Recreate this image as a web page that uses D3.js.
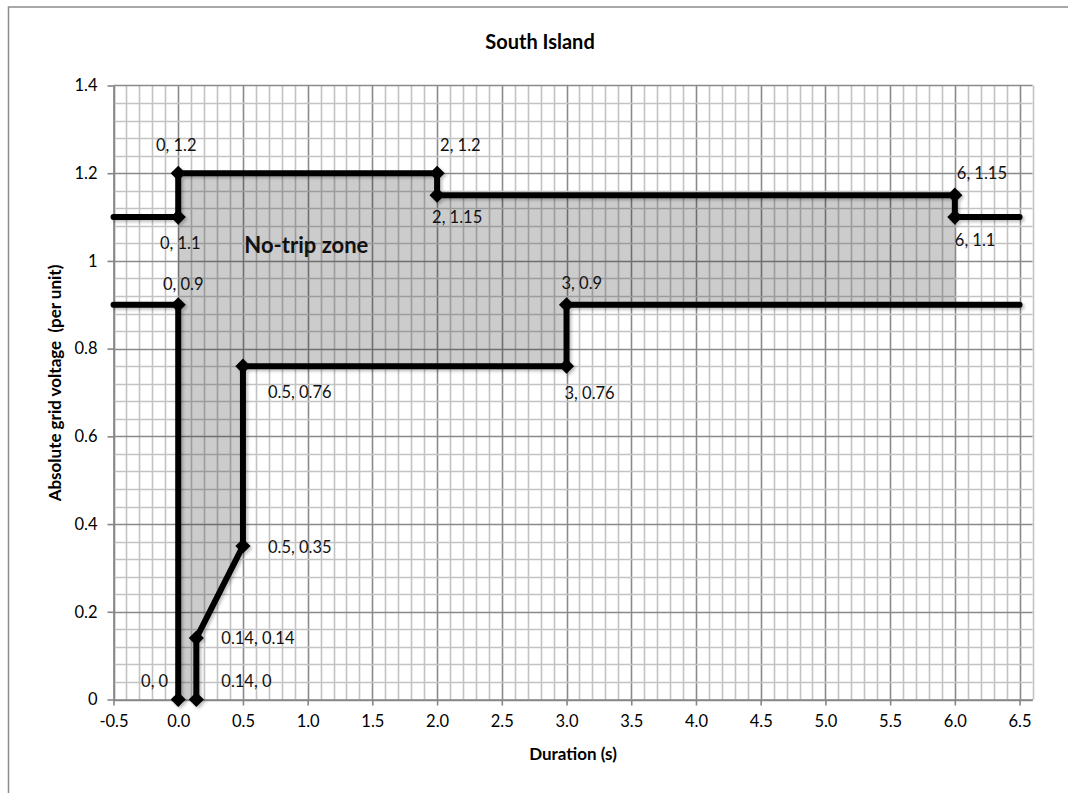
<!DOCTYPE html>
<html>
<head>
<meta charset="utf-8">
<script src="https://d3js.org/d3.v7.min.js"></script>
<style>
  body { margin: 0; background: #ffffff; }
  svg { display: block; font-family: Lato, "Open Sans", sans-serif; }
</style>
</head>
<body>
<script>
// chart data
const upperX = [-0.5, 0, 0, 2, 2, 6, 6, 6.5];
const upperY = [1.1, 1.1, 1.2, 1.2, 1.15, 1.15, 1.1, 1.1];
const lowerLeftX = [-0.5, 0, 0];
const lowerLeftY = [0.9, 0.9, 0];
const lowerRightX = [0.14, 0.14, 0.5, 0.5, 3, 3, 6.5];
const lowerRightY = [0, 0.14, 0.35, 0.76, 0.76, 0.9, 0.9];

// the labelled corner points
const pointX = [0, 0, 0, 2, 2, 6, 6, 3, 3, 0.5, 0.5, 0.14, 0.14, 0];
const pointY = [1.2, 1.1, 0.9, 1.2, 1.15, 1.15, 1.1, 0.9, 0.76, 0.76, 0.35, 0.14, 0, 0];

// shaded no-trip zone outline
const zoneX = [0, 0, 2, 2, 6, 6, 3, 3, 0.5, 0.5, 0.14, 0.14];
const zoneY = [0, 1.2, 1.2, 1.15, 1.15, 0.9, 0.9, 0.76, 0.76, 0.35, 0.14, 0];

// tick labels
const xTicks = [-0.5, 0, 0.5, 1, 1.5, 2, 2.5, 3, 3.5, 4, 4.5, 5, 5.5, 6, 6.5];
const yTicks = [0, 0.2, 0.4, 0.6, 0.8, 1, 1.2, 1.4];

const chartTitle = "South Island";
const xTitle = "Duration (s)";
const yTitle = "Absolute grid voltage\u00a0\u00a0(per unit)";
const zoneLabel = "No-trip zone";

// label placement for each point (dx, dy, anchor) - layout only
const labelPlace = [
    [-2, -28, "middle"], [2, 26, "middle"], [5, -21, "middle"],
    [3, -28, "start"], [-5, 22, "start"], [2, -22, "start"], [0, 23, "start"],
    [-5, -22, "start"], [-2, 27, "start"], [25, 26, "start"], [25, 1, "start"],
    [25, 0, "start"], [25, -18, "start"], [-10, -18, "end"]
];

const width = 1068;
const height = 793;

// plot area
const plot = { left: 113.5, right: 1032.5, top: 85.5, bottom: 699.5 };

var x = d3.scaleLinear().domain([-0.5, 6.6]).range([plot.left, plot.right]);
var y = d3.scaleLinear().domain([0, 1.4]).range([plot.bottom, plot.top]);

var svg = d3.select("body")
    .append("svg")
    .attr("width", width)
    .attr("height", height);

// soft shadow like the spreadsheet lines
var defs = svg.append("defs");
defs.append("filter")
    .attr("id", "shadow")
    .attr("x", "-20%").attr("y", "-20%")
    .attr("width", "140%").attr("height", "140%")
    .append("feDropShadow")
    .attr("dx", 2).attr("dy", 2)
    .attr("stdDeviation", 1.5)
    .attr("flood-color", "#000")
    .attr("flood-opacity", 0.25);

// outer chart frame (only top and left are in view)
svg.append("rect")
    .attr("x", 8.5).attr("y", 7)
    .attr("width", 1200).attr("height", 900)
    .attr("fill", "none")
    .attr("stroke", "#8c8c8c")
    .attr("stroke-width", 1.5);

// gridlines: minor every 0.1 / 0.04, major every 0.5 / 0.2
var gridX = d3.range(0, 72).map(function (i) { return { v: -0.5 + i * 0.1, major: i % 5 === 0 }; });
var gridY = d3.range(0, 36).map(function (i) { return { v: i * 0.04, major: i % 5 === 0 }; });

var grid = svg.append("g");
grid.selectAll(".gx")
    .data(gridX.sort(function (a, b) { return a.major - b.major; }))
    .enter()
    .append("line")
    .attr("x1", function (d) { return Math.round(x(d.v)) + 0.5; })
    .attr("x2", function (d) { return Math.round(x(d.v)) + 0.5; })
    .attr("y1", plot.top)
    .attr("y2", plot.bottom)
    .attr("stroke", function (d) { return d.major ? "#8a8a8a" : "#c3c3c3"; })
    .attr("stroke-width", 1.6);

grid.selectAll(".gy")
    .data(gridY.sort(function (a, b) { return a.major - b.major; }))
    .enter()
    .append("line")
    .attr("x1", plot.left)
    .attr("x2", plot.right)
    .attr("y1", function (d) { return Math.round(y(d.v)) + 0.5; })
    .attr("y2", function (d) { return Math.round(y(d.v)) + 0.5; })
    .attr("stroke", function (d) { return d.major ? "#8a8a8a" : "#c3c3c3"; })
    .attr("stroke-width", 1.6);

// shaded zone
var zone = zoneX.map(function (d, i) { return [x(d), y(zoneY[i])]; });
svg.append("polygon")
    .attr("points", zone.map(function (p) { return p.join(","); }).join(" "))
    .attr("fill", "#000000")
    .attr("fill-opacity", 0.2);

// axes
var xAxis = svg.append("g")
    .attr("transform", "translate(0," + plot.bottom + ")")
    .call(d3.axisBottom(x)
        .tickValues(xTicks)
        .tickSize(6)
        .tickSizeOuter(0)
        .tickPadding(10)
        .tickFormat(function (d) { return d.toFixed(1); }));

var yAxis = svg.append("g")
    .attr("transform", "translate(" + plot.left + ",0)")
    .call(d3.axisLeft(y)
        .tickValues(yTicks)
        .tickSize(6)
        .tickSizeOuter(0)
        .tickPadding(10)
        .tickFormat(function (d) { return String(+d.toFixed(1)); }));

[xAxis, yAxis].forEach(function (ax) {
    ax.select(".domain").attr("stroke", "#868686").attr("stroke-width", 1.6);
    ax.selectAll(".tick line").attr("stroke", "#868686").attr("stroke-width", 1.6);
    ax.selectAll("text")
        .attr("fill", "#000")
        .style("font-family", "Lato, sans-serif")
        .style("font-size", "16.5px");
});

// lines
var line = d3.line()
    .x(function (d) { return x(d[0]); })
    .y(function (d) { return y(d[1]); });

var series = [
    upperX.map(function (d, i) { return [d, upperY[i]]; }),
    lowerLeftX.map(function (d, i) { return [d, lowerLeftY[i]]; }),
    lowerRightX.map(function (d, i) { return [d, lowerRightY[i]]; })
];

var marks = svg.append("g").attr("filter", "url(#shadow)");

marks.selectAll("path.series")
    .data(series)
    .enter()
    .append("path")
    .attr("class", "series")
    .attr("d", line)
    .attr("fill", "none")
    .attr("stroke", "#000")
    .attr("stroke-width", 6)
    .attr("stroke-linecap", "round")
    .attr("stroke-linejoin", "miter");

// diamond markers
var points = pointX.map(function (d, i) { return { x: d, y: pointY[i], place: labelPlace[i] }; });

marks.selectAll("path.marker")
    .data(points)
    .enter()
    .append("path")
    .attr("class", "marker")
    .attr("d", d3.symbol().type(d3.symbolSquare).size(115))
    .attr("transform", function (d) { return "translate(" + x(d.x) + "," + y(d.y) + ") rotate(45)"; })
    .attr("fill", "#000");

// data labels
svg.append("g")
    .selectAll("text")
    .data(points)
    .enter()
    .append("text")
    .attr("x", function (d) { return x(d.x) + d.place[0]; })
    .attr("y", function (d) { return y(d.y) + d.place[1]; })
    .attr("dy", "0.35em")
    .attr("text-anchor", function (d) { return d.place[2]; })
    .style("font-size", "16.5px")
    .attr("fill", "#111")
    .text(function (d) { return d.x + ", " + d.y; });

// zone label
svg.append("text")
    .attr("x", x(0.99))
    .attr("y", y(1.035))
    .attr("dy", "0.35em")
    .attr("text-anchor", "middle")
    .style("font-size", "22px")
    .style("font-weight", "bold")
    .attr("fill", "#111")
    .text(zoneLabel);

// titles
svg.append("text")
    .attr("x", 540)
    .attr("y", 42)
    .attr("dy", "0.35em")
    .attr("text-anchor", "middle")
    .style("font-size", "20px")
    .style("font-weight", "bold")
    .text(chartTitle);

svg.append("text")
    .attr("x", 573)
    .attr("y", 754)
    .attr("dy", "0.35em")
    .attr("text-anchor", "middle")
    .style("font-size", "17px")
    .style("font-weight", "bold")
    .text(xTitle);

svg.append("text")
    .attr("transform", "translate(55," + 383 + ") rotate(-90)")
    .attr("dy", "0.35em")
    .attr("text-anchor", "middle")
    .style("font-size", "17px")
    .style("font-weight", "bold")
    .text(yTitle);
</script>
</body>
</html>
